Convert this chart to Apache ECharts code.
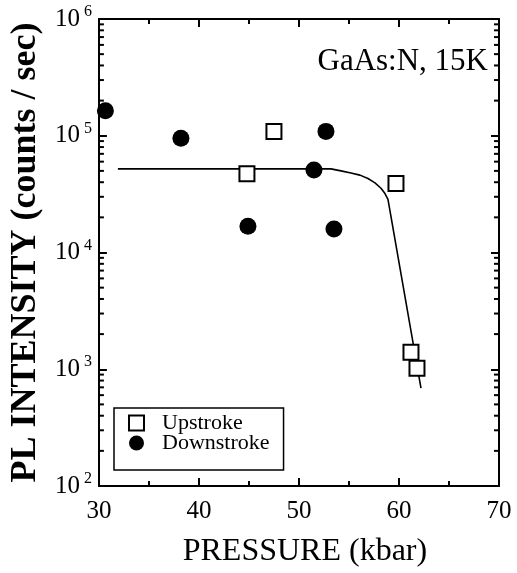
<!DOCTYPE html>
<html>
<head>
<meta charset="utf-8">
<title>GaAs:N PL intensity vs pressure</title>
<script src="https://cdn.jsdelivr.net/npm/echarts@6/dist/echarts.min.js"></script>
<style>
  html, body { margin: 0; padding: 0; background: #fff; }
  #chart { width: 517px; height: 573px; }
</style>
</head>
<body>
<div id="chart"></div>
<script>
// Upstroke (increasing pressure) measurements
const upPressure = [44.8, 47.5, 59.7, 61.2, 61.8];
const upIntensity = [4.72e4, 1.09e5, 3.89e4, 1.40e3, 1.02e3];

// Downstroke (decreasing pressure) measurements
const downPressure = [30.65, 38.2, 44.9, 51.5, 52.7, 53.5];
const downIntensity = [1.64e5, 9.5e4, 1.68e4, 5.1e4, 1.09e5, 1.59e4];

// Guide-to-the-eye curve
const fitPressure = [31.9, 53.2, 54.2, 55.2, 56.1, 56.9, 57.6, 58.2, 58.6, 58.9, 62.2];
const fitIntensity = [5.2e4, 5.2e4, 5.0e4, 4.8e4, 4.6e4, 4.3e4, 3.95e4, 3.55e4, 3.2e4, 2.85e4, 690];

// Axis ticks
const xTicks = [30, 40, 50, 60, 70];
const yDecades = [2, 3, 4, 5, 6];
const yMinorMantissa = [2, 3, 4, 5, 6, 7, 8, 9];

const serif = '"Liberation Serif", "DejaVu Serif", "Times New Roman", serif';

const pairs = (xs, ys) => xs.map((x, i) => [x, ys[i]]);

const xMin = xTicks[0], xMax = xTicks[xTicks.length - 1];
const yMin = Math.pow(10, yDecades[0]), yMax = Math.pow(10, yDecades[yDecades.length - 1]);

// minor log ticks (2..9 x 10^n) placed on the left and right frame
const minorTickValues = [];
yDecades.slice(0, -1).forEach(d => {
  yMinorMantissa.forEach(m => minorTickValues.push([m * Math.pow(10, d)]));
});

const chart = echarts.init(document.getElementById('chart'), null, { renderer: 'canvas' });

const frameLine = { show: true, lineStyle: { color: '#000', width: 2 } };

chart.setOption({
  animation: false,
  backgroundColor: '#fff',
  grid: { left: 97.5, right: 18, top: 19, bottom: 80, containLabel: false },
  xAxis: [
    {
      type: 'value', min: xMin, max: xMax, interval: 10,
      axisLine: frameLine,
      axisTick: { show: true, inside: true, length: 8, lineStyle: { color: '#000', width: 2 } },
      minorTick: { show: true, splitNumber: 2, length: 5, lineStyle: { color: '#000', width: 2 } },
      splitLine: { show: false },
      axisLabel: { color: '#000', fontFamily: serif, fontSize: 25, margin: 13 },
      name: 'PRESSURE (kbar)',
      nameLocation: 'middle',
      nameGap: 50,
      nameTextStyle: { color: '#000', fontFamily: serif, fontSize: 32, padding: [0, 0, 0, 12] }
    },
    {
      type: 'value', min: xMin, max: xMax, interval: 10, position: 'top',
      axisLine: frameLine,
      axisTick: { show: true, inside: true, length: 8, lineStyle: { color: '#000', width: 2 } },
      minorTick: { show: true, splitNumber: 2, length: 5, lineStyle: { color: '#000', width: 2 } },
      splitLine: { show: false },
      axisLabel: { show: false }
    }
  ],
  yAxis: [
    {
      type: 'log', logBase: 10, min: yMin, max: yMax,
      axisLine: frameLine,
      axisTick: { show: true, inside: true, length: 8, lineStyle: { color: '#000', width: 2 } },
      splitLine: { show: false },
      axisLabel: {
        color: '#000', fontFamily: serif, fontSize: 25, margin: 7,
        formatter: v => '10{e|' + Math.round(Math.log10(v)) + '}',
        rich: { e: { fontFamily: serif, fontSize: 16, color: '#000', padding: [0, 0, 14, 4] } }
      },
      name: 'PL INTENSITY (counts / sec)',
      nameLocation: 'middle',
      nameRotate: 90,
      nameGap: 46,
      nameTextStyle: { color: '#000', fontFamily: serif, fontSize: 36, fontWeight: 'bold' }
    },
    {
      type: 'log', logBase: 10, min: yMin, max: yMax, position: 'right',
      axisLine: frameLine,
      axisTick: { show: true, inside: true, length: 8, lineStyle: { color: '#000', width: 2 } },
      splitLine: { show: false },
      axisLabel: { show: false }
    }
  ],
  legend: {
    orient: 'vertical',
    left: 114, top: 408,
    padding: [4, 14, 16, 14],
    itemGap: -2,
    itemWidth: 15, itemHeight: 15,
    borderColor: '#000', borderWidth: 1.5, borderRadius: 0,
    backgroundColor: '#fff',
    textStyle: { color: '#000', fontFamily: serif, fontSize: 22, padding: [0, 0, 0, 13] },
    data: [
      { name: 'Upstroke', icon: 'rect' },
      { name: 'Downstroke', icon: 'circle' }
    ]
  },
  graphic: [
    {
      type: 'text', right: 517 - 488, top: 46,
      style: { text: 'GaAs:N, 15K', fill: '#000', font: '31px ' + serif }
    }
  ],
  series: [
    {
      name: 'fit', type: 'line', data: pairs(fitPressure, fitIntensity),
      showSymbol: false, symbol: 'none', smooth: false,
      lineStyle: { color: '#000', width: 1.6 }, z: 2, silent: true
    },
    {
      name: 'Upstroke', type: 'scatter', data: pairs(upPressure, upIntensity),
      symbol: 'rect', symbolSize: 15,
      itemStyle: { color: '#fff', borderColor: '#000', borderWidth: 2, opacity: 1 }, z: 3, clip: false
    },
    {
      name: 'Downstroke', type: 'scatter', data: pairs(downPressure, downIntensity),
      symbol: 'circle', symbolSize: 17,
      itemStyle: { color: '#000', opacity: 1 }, z: 4, clip: false
    },
    {
      name: 'minor log ticks', type: 'custom', data: minorTickValues, silent: true, z: 5,
      encode: { y: 0 },
      renderItem: (params, api) => {
        const v = api.value(0);
        const left = api.coord([xMin, v]);
        const right = api.coord([xMax, v]);
        const len = 5;
        const style = { stroke: '#000', lineWidth: 2 };
        return {
          type: 'group',
          children: [
            { type: 'line', shape: { x1: left[0], y1: left[1], x2: left[0] + len, y2: left[1] }, style },
            { type: 'line', shape: { x1: right[0] - len, y1: right[1], x2: right[0], y2: right[1] }, style }
          ]
        };
      }
    }
  ]
});
</script>
</body>
</html>
